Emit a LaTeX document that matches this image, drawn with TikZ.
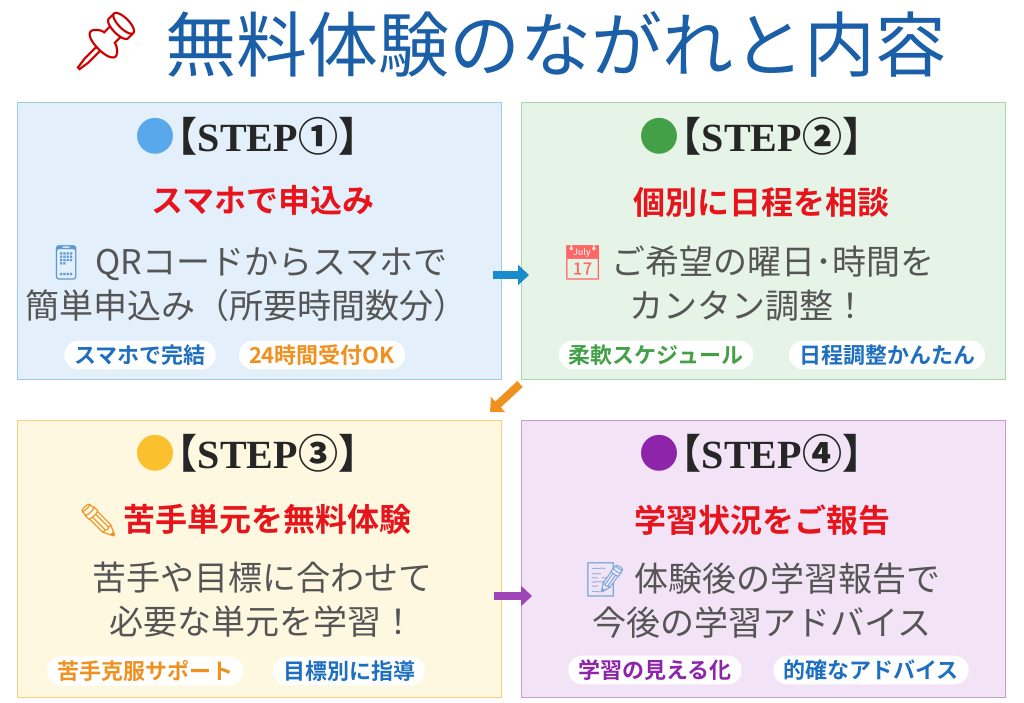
\documentclass[tikz,border=0pt]{standalone}
\usepackage{fontspec}
\setmainfont{Liberation Serif}
\newfontfamily\jp{Noto Sans CJK JP}
\newfontfamily\jpb{Noto Sans CJK JP}[BoldFont={* Bold},UprightFont={* Bold}]
\newfontfamily\emo{Noto Emoji}
\usetikzlibrary{arrows.meta}
\definecolor{ttl}{HTML}{1A5FA8}
\definecolor{bodyc}{HTML}{555555}
\definecolor{redc}{HTML}{E8141C}
\definecolor{fA}{HTML}{E3F0FB}\definecolor{bA}{HTML}{9CCBE8}\definecolor{cA}{HTML}{5AA8EC}
\definecolor{fB}{HTML}{E6F4E8}\definecolor{bB}{HTML}{A8D5AD}\definecolor{cB}{HTML}{43A047}
\definecolor{fC}{HTML}{FFF8E1}\definecolor{bC}{HTML}{F5CF7A}\definecolor{cC}{HTML}{FBC02D}
\definecolor{fD}{HTML}{F3E3F7}\definecolor{bD}{HTML}{C79AD6}\definecolor{cD}{HTML}{8E24AA}
\definecolor{tBlue}{HTML}{1E6FC0}\definecolor{tOr}{HTML}{F0901E}
\newcommand{\stephead}[2]{{\color{#1}\jp●}\hspace{-0.45em}{\jp【}STEP{\jp#2}{\jp】}\hspace{-0.45em}}
\tikzset{
  card/.style={draw=#1,line width=0.8pt,anchor=north west,minimum width=484pt,minimum height=277pt,inner sep=0pt},
  head/.style={font=\fontsize{40}{42}\selectfont\bfseries,text=black!85},
  sub/.style={font=\jpb\fontsize{32}{34}\selectfont,text=redc},
  bod/.style={font=\jp\fontsize{34}{44}\selectfont,text=bodyc,align=center},
  tag/.style={font=\jpb\fontsize{22}{24}\selectfont,text=#1,fill=white,rounded corners=14pt,inner xsep=10pt,inner ysep=4pt},
  arr/.style={-{Triangle[length=11pt,width=20pt]},line width=8pt,draw=#1}
}
\begin{document}
\begin{tikzpicture}[x=1pt,y=-1pt]
\useasboundingbox[fill=white] (0,0) rectangle (1024,703);
\node (title) at (556,44) {\jp\fontsize{71}{74}\selectfont\color{ttl}無料体験のながれと内容};
\node (pin) at (106,42) {\emo\fontsize{58}{60}\selectfont\color{red!80!black}📌};
% cards
\node[card=bA,fill=fA] (c1) at (17,102) {};
\node[card=bB,fill=fB] (c2) at (521,102) {};
\node[card=bC,fill=fC] (c3) at (17,420) {};
\node[card=bD,fill=fD] (c4) at (521,420) {};
% card 1
\node[head] (h1) at (257,136) {\stephead{cA}{①}};
\node[sub] (s1) at (263,200) {スマホで申込み};
\node[bod] (b1) at (246,284) {{\emo\color{tBlue!70}📱} QRコードからスマホで\\簡単申込み（所要時間数分）};
\node[tag=tBlue] (t1a) at (140,355) {スマホで完結};
\node[tag=tOr] (t1b) at (322,355) {24時間受付OK};
% card 2
\node[head] (h2) at (761,136) {\stephead{cB}{②}};
\node[sub] (s2) at (761,202) {個別に日程を相談};
\node[bod] (b2) at (748,284) {{\emo\color{red!60}📅} ご希望の曜日･時間を\\カンタン調整！};
\node[tag=cB] (t2a) at (656,355) {柔軟スケジュール};
\node[tag=tBlue] (t2b) at (887,355) {日程調整かんたん};
% card 3
\node[head] (h3) at (257,453) {\stephead{cC}{③}};
\node[sub] (s3) at (245,520) {{\emo\color{tOr}✏}\,苦手単元を無料体験};
\node[bod] (b3) at (262,600) {苦手や目標に合わせて\\必要な単元を学習！};
\node[tag=tOr] (t3a) at (145,671) {苦手克服サポート};
\node[tag=tBlue] (t3b) at (349,671) {目標別に指導};
% card 4
\node[head] (h4) at (761,453) {\stephead{cD}{④}};
\node[sub] (s4) at (762,520) {学習状況をご報告};
\node[bod] (b4) at (762,600) {{\emo\color{tBlue!60}📝} 体験後の学習報告で\\今後の学習アドバイス};
\node[tag=cD] (t4a) at (655,670) {学習の見える化};
\node[tag=tBlue] (t4b) at (871,670) {的確なアドバイス};
% arrows
\coordinate (a1s) at (493,275); \coordinate (a1e) at (529,275);
\draw[arr=tBlue!80!cyan] (a1s) -- (a1e);
\coordinate (a2s) at (520,384); \coordinate (a2e) at (490,412);
\draw[arr=tOr] (a2s) -- (a2e);
\coordinate (a3s) at (494,596); \coordinate (a3e) at (532,596);
\draw[arr=cD!85] (a3s) -- (a3e);
\end{tikzpicture}
\end{document}
